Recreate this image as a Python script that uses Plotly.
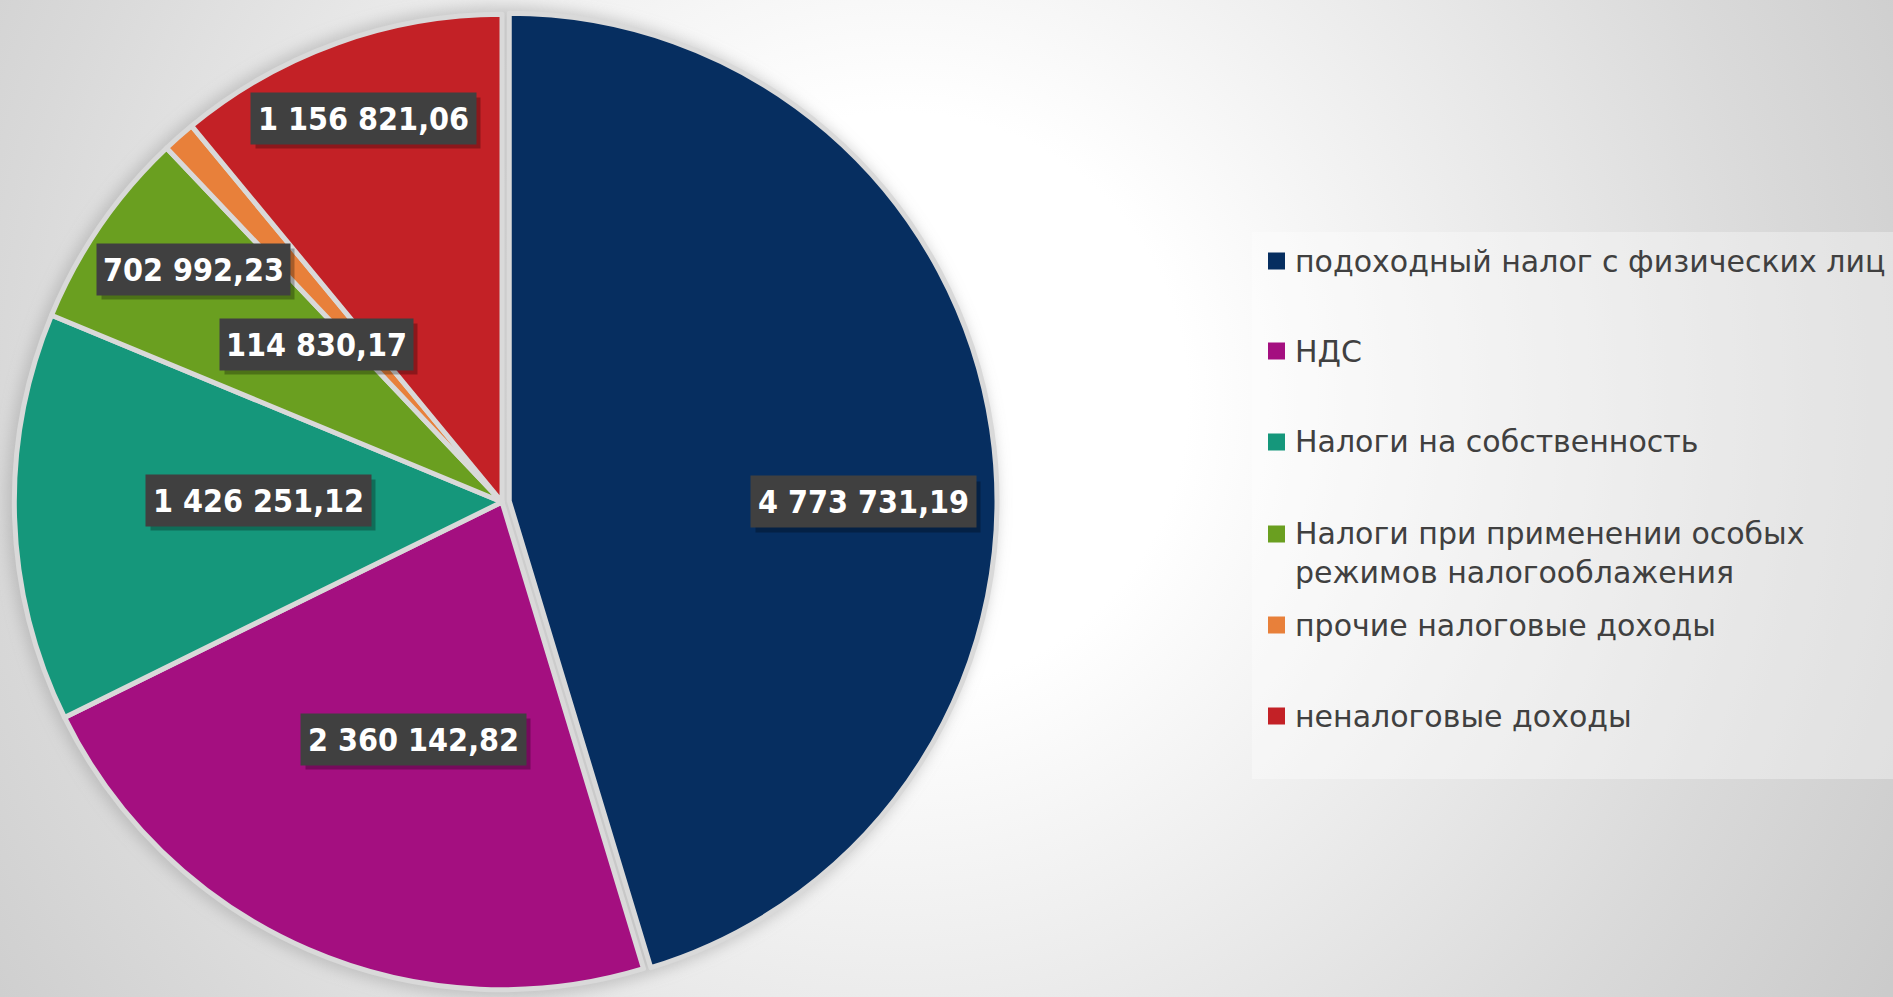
import base64
import plotly.graph_objects as go

# ---------------- data ----------------
categories = [
    "подоходный налог с физических лиц",
    "НДС",
    "Налоги на собственность",
    "Налоги при применении особых режимов налогооблажения",
    "прочие налоговые доходы",
    "неналоговые доходы",
]
values = [4773731.19, 2360142.82, 1426251.12, 702992.23, 114830.17, 1156821.06]
value_labels = ["4 773 731,19", "2 360 142,82", "1 426 251,12", "702 992,23", "114 830,17", "1 156 821,06"]
colors = ["#062e60", "#a40f80", "#15977b", "#6a9f20", "#e8803a", "#c32126"]

# ---------------- layout constants ----------------
W, H = 1893, 997
DOMAIN_X = [0.0, 0.5304]
DOMAIN_Y = [0.0, 0.993]
PULL = [0.015, 0, 0, 0, 0, 0]

# data-label box centres (pixels in the page)
LABEL_POS = [(863, 502), (413, 739), (258, 500), (193, 269), (316, 344), (363, 118)]
LABEL_H = 45
LABEL_PAD = 3

# legend layout (pixels)
LEG_BOX = (1252, 232, 1893, 779)
LEG_SQ_X = (1268, 1285)
LEG_TEXT_X = 1293
LEG_Y = [261, 351, 442, 553, 625, 716]
LEG_TEXT = [
    "подоходный налог с физических лиц",
    "НДС",
    "Налоги на собственность",
    "Налоги при применении особых<br>режимов налогооблажения",
    "прочие налоговые доходы",
    "неналоговые доходы",
]
LEG_SQ_Y = [261, 351, 442, 534, 625, 716]


def px(x):
    return x / W


def py(y):
    return 1 - y / H


# pie geometry (as plotly computes it) for the soft shadow in the background
box_w = W * (DOMAIN_X[1] - DOMAIN_X[0])
box_h = H * (DOMAIN_Y[1] - DOMAIN_Y[0])
r_pie = min(box_w, box_h) / 2 / (1 + max(PULL))
cx = W * (DOMAIN_X[0] + DOMAIN_X[1]) / 2
cy = H * (1 - (DOMAIN_Y[0] + DOMAIN_Y[1]) / 2)

svg = f'''<svg xmlns="http://www.w3.org/2000/svg" width="{W}" height="{H}" viewBox="0 0 {W} {H}">
<defs>
<radialGradient id="g" gradientUnits="userSpaceOnUse" cx="900" cy="400" r="1150">
<stop offset="0" stop-color="#ffffff"/>
<stop offset="0.25" stop-color="#ffffff"/>
<stop offset="0.78" stop-color="#d9d9d9"/>
<stop offset="1" stop-color="#cbcbcb"/>
</radialGradient>
<filter id="b" x="-20%" y="-20%" width="140%" height="140%"><feGaussianBlur stdDeviation="7"/></filter>
</defs>
<rect width="{W}" height="{H}" fill="url(#g)"/>
<circle cx="{cx:.1f}" cy="{cy:.1f}" r="{r_pie + 8:.1f}" fill="#9a9a9a" fill-opacity="0.45" filter="url(#b)"/>
</svg>'''
bg_uri = "data:image/svg+xml;base64," + base64.b64encode(svg.encode("utf-8")).decode("ascii")

fig = go.Figure()
fig.add_trace(go.Pie(
    labels=categories,
    values=values,
    sort=False,
    direction="clockwise",
    rotation=0,
    pull=PULL,
    marker=dict(colors=colors, line=dict(color="#d9d9d9", width=5)),
    textinfo="none",
    hoverinfo="label+value",
    domain=dict(x=DOMAIN_X, y=DOMAIN_Y),
    showlegend=False,
))

annotations = []
shapes = []
label_font = dict(family="Liberation Sans Narrow, DejaVu Sans Condensed, Arial Narrow, sans-serif",
                  size=32, color="#ffffff", weight="bold")
for txt, (lx, ly) in zip(value_labels, LABEL_POS):
    box_wpx = 16 * len(txt) + 33
    # drop shadow of the label box
    shapes.append(dict(
        type="rect", xref="paper", yref="paper", xsizemode="pixel", ysizemode="pixel",
        xanchor=px(lx), yanchor=py(ly),
        x0=-box_wpx / 2 + 5, x1=box_wpx / 2 + 5,
        y0=-(LABEL_H / 2 + LABEL_PAD) - 5, y1=(LABEL_H / 2 + LABEL_PAD) - 5,
        fillcolor="rgba(0,0,0,0.28)", line=dict(width=0),
    ))
    annotations.append(dict(
        x=px(lx), y=py(ly), xref="paper", yref="paper", text=txt, showarrow=False,
        font=label_font, bgcolor="#404040",
        width=box_wpx - 2 * LABEL_PAD, height=LABEL_H, borderpad=LABEL_PAD,
        xanchor="center", yanchor="middle", align="center", valign="middle",
    ))

shapes.insert(0, dict(
    type="rect", xref="paper", yref="paper",
    x0=px(LEG_BOX[0]), x1=px(LEG_BOX[2]), y0=py(LEG_BOX[3]), y1=py(LEG_BOX[1]),
    fillcolor="rgba(255,255,255,0.35)", line=dict(width=0), layer="below",
))
sq = LEG_SQ_X[1] - LEG_SQ_X[0]
for col, txt, ty, sy in zip(colors, LEG_TEXT, LEG_Y, LEG_SQ_Y):
    shapes.append(dict(
        type="rect", xref="paper", yref="paper",
        x0=px(LEG_SQ_X[0]), x1=px(LEG_SQ_X[1]), y0=py(sy + sq / 2), y1=py(sy - sq / 2),
        fillcolor=col, line=dict(width=0),
    ))
    annotations.append(dict(
        x=px(LEG_TEXT_X), y=py(ty), xref="paper", yref="paper", text=txt, showarrow=False,
        font=dict(family="DejaVu Sans, sans-serif", size=30, color="#404040"),
        xanchor="left", yanchor="middle", align="left",
    ))

fig.update_layout(
    width=W, height=H,
    margin=dict(l=0, r=0, t=0, b=0),
    paper_bgcolor="#ffffff",
    plot_bgcolor="#ffffff",
    images=[dict(source=bg_uri, xref="paper", yref="paper", x=0, y=1, sizex=1, sizey=1,
                 xanchor="left", yanchor="top", sizing="stretch", layer="below")],
    shapes=shapes,
    annotations=annotations,
)

fig.write_html(
    "out.html",
    config={"displayModeBar": False},
    post_script="document.body.style.margin='0';document.body.style.overflow='hidden';",
)
